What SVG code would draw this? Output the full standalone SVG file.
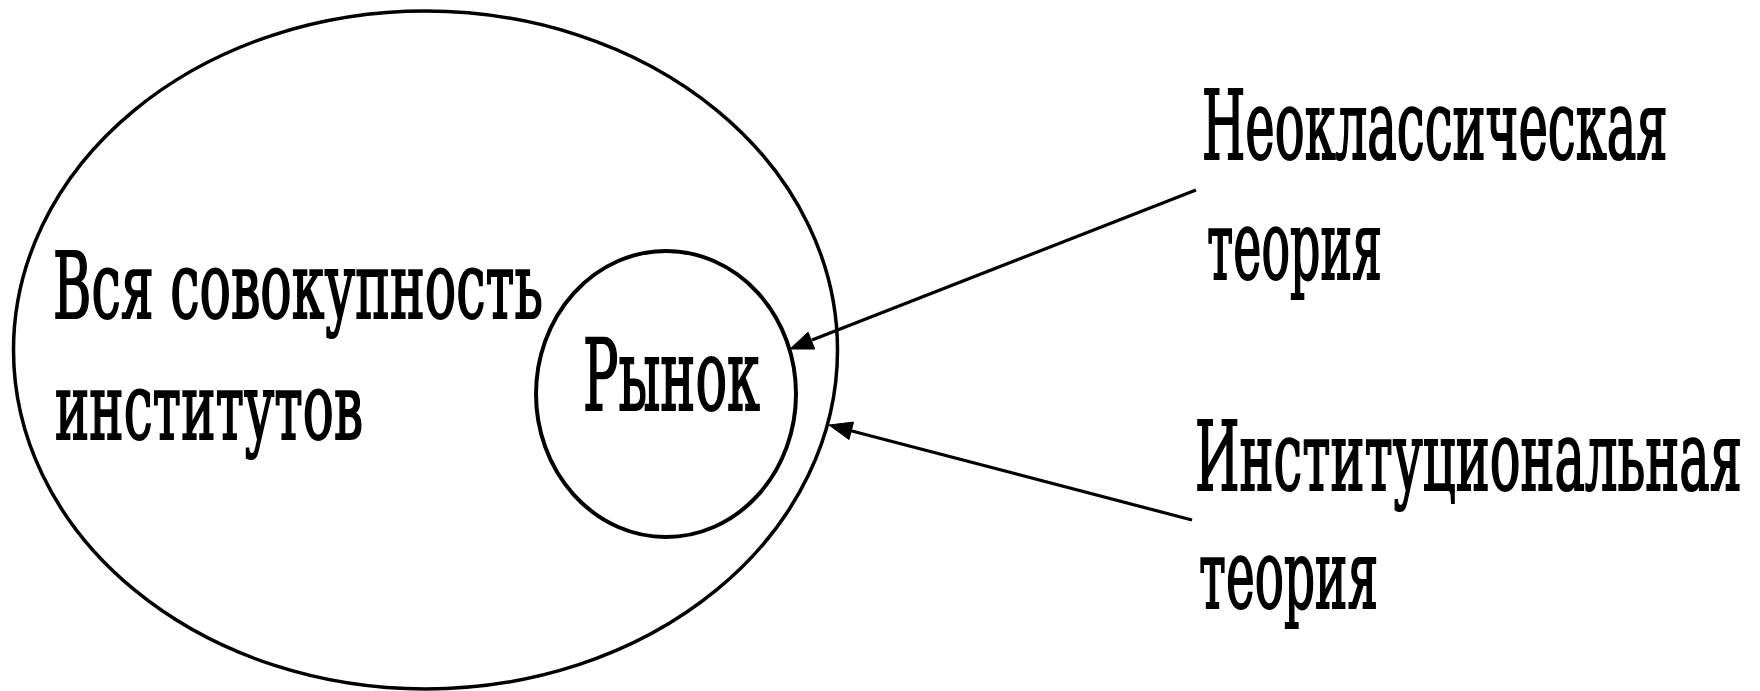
<svg xmlns="http://www.w3.org/2000/svg" width="1760" height="691" viewBox="0 0 1760 691">
  <style>
    .shape { fill: none; stroke: #000; }
    .lbl { font-family: 'DejaVu Serif', 'Liberation Serif', serif; fill: #000; stroke: #000; stroke-width: 2.2; }
    .conn { stroke: #000; stroke-width: 3.2; fill: none; }
    .head { fill: #000; stroke: #000; stroke-width: 1; }
  </style>
  <rect x="0" y="0" width="1760" height="691" fill="#fff"/>

  <g id="node-all-institutions">
    <ellipse class="shape" cx="425.5" cy="350" rx="412" ry="339" stroke-width="3.5"/>
    <text class="lbl" transform="translate(53,318) scale(0.567,1)" x="0" y="0" font-size="91" textLength="864" lengthAdjust="spacingAndGlyphs">Вся совокупность</text>
    <text class="lbl" transform="translate(55,439) scale(0.546,1)" x="0" y="0" font-size="91" textLength="564" lengthAdjust="spacingAndGlyphs">институтов</text>
  </g>

  <g id="node-market">
    <ellipse class="shape" cx="666" cy="394" rx="130" ry="143" stroke-width="4"/>
    <text class="lbl" transform="translate(583,410) scale(0.51,1)" x="0" y="0" font-size="100" textLength="347" lengthAdjust="spacingAndGlyphs">Рынок</text>
  </g>

  <g id="node-neoclassical">
    <text class="lbl" transform="translate(1202,159) scale(0.525,1)" x="0" y="0" font-size="95" textLength="887" lengthAdjust="spacingAndGlyphs">Неоклассическая</text>
    <text class="lbl" transform="translate(1207,279) scale(0.4916,1)" x="0" y="0" font-size="95" textLength="356" lengthAdjust="spacingAndGlyphs">теория</text>
  </g>

  <g id="node-institutional">
    <text class="lbl" transform="translate(1195,490) scale(0.4707,1)" x="0" y="0" font-size="95" textLength="1162" lengthAdjust="spacingAndGlyphs">Институциональная</text>
    <text class="lbl" transform="translate(1199,608) scale(0.503,1)" x="0" y="0" font-size="95" textLength="356" lengthAdjust="spacingAndGlyphs">теория</text>
  </g>

  <g id="connectors">
    <line class="conn" x1="1196" y1="190" x2="812" y2="340"/>
    <polygon class="head" points="790,349 814.7,349 808.1,332.2"/>
    <line class="conn" x1="1192" y1="520" x2="850" y2="430.5"/>
    <polygon class="head" points="829,425 849,439.5 853.5,422.1"/>
  </g>
</svg>
